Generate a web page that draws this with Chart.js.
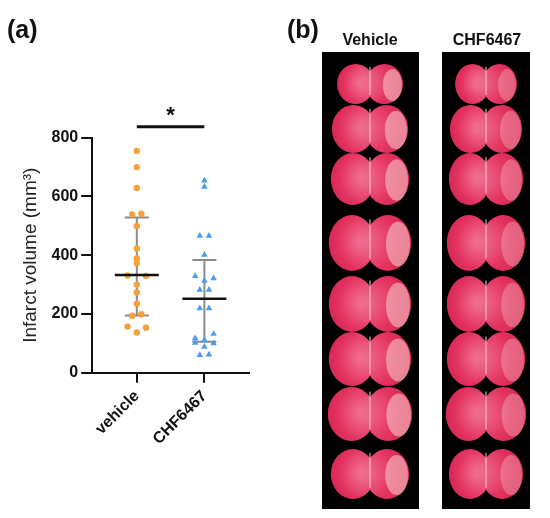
<!DOCTYPE html>
<html>
<head>
<meta charset="utf-8">
<script src="https://cdn.jsdelivr.net/npm/chart.js@4/dist/chart.umd.min.js"></script>
<style>
  body { margin: 0; background: #fff; }
  #wrap { position: relative; width: 550px; height: 518px; }
</style>
</head>
<body>
<div id="wrap"><canvas id="chart" width="550" height="518"></canvas></div>
<script>
// values
var groups = ['vehicle', 'CHF6467'];
var vehicle = [755, 700, 629, 539, 541, 499, 423, 389, 373, 331, 329, 300, 273, 235, 194, 199, 157, 153, 137];
var vehicleJitter = [0, 0, 0, -1, 1, 0, 0, 0, 0, -2, 2, 0, 0, 0, -1, 1, -2, 2, 0];
var chf = [654, 633, 466, 466, 401, 329, 313, 321, 282, 282, 219, 219, 132, 117, 111, 102, 100, 88, 60, 62];
var chfJitter = [0, 0, -1, 1, 0, -2, 0, 2, -1, 1, -1, 1, 2, -2, 0, -2, 2, 0, -1, 1];
var medians = [333, 252];
var q1 = [195, 105];
var q3 = [528, 384];
var yTicks = [0, 200, 400, 600, 800];
var panelLabels = ['(a)', '(b)'];
var photoTitles = ['Vehicle', 'CHF6467'];

var jitterStep = 0.068;
var FONT = "'Liberation Sans', Arial, sans-serif";

function toPoints(values, jitter, idx) {
  return values.map(function(v, i) {
    return { x: idx + jitter[i] * jitterStep, y: v };
  });
}

// grey IQR bars behind the points
var iqrPlugin = {
  id: 'iqr',
  beforeDatasetsDraw: function(chart) {
    var ctx = chart.ctx, x = chart.scales.x, y = chart.scales.y;
    ctx.save();
    ctx.strokeStyle = '#8c8c8c';
    ctx.lineWidth = 2;
    groups.forEach(function(g, i) {
      var cx = x.getPixelForValue(i);
      var lo = y.getPixelForValue(q1[i]), hi = y.getPixelForValue(q3[i]);
      ctx.beginPath();
      ctx.moveTo(cx, lo); ctx.lineTo(cx, hi);
      ctx.moveTo(cx - 12, lo); ctx.lineTo(cx + 12, lo);
      ctx.moveTo(cx - 12, hi); ctx.lineTo(cx + 12, hi);
      ctx.stroke();
    });
    ctx.restore();
  }
};

// medians, significance bar and the text labels
var overlayPlugin = {
  id: 'overlay',
  afterDatasetsDraw: function(chart) {
    var ctx = chart.ctx, x = chart.scales.x, y = chart.scales.y;
    ctx.save();
    ctx.strokeStyle = '#111';
    ctx.lineWidth = 2.5;
    groups.forEach(function(g, i) {
      var cx = x.getPixelForValue(i), my = y.getPixelForValue(medians[i]);
      ctx.beginPath();
      ctx.moveTo(cx - 22, my); ctx.lineTo(cx + 22, my);
      ctx.stroke();
    });
    var top = chart.chartArea.top;
    var x0 = x.getPixelForValue(0), x1 = x.getPixelForValue(1);
    ctx.lineWidth = 3;
    ctx.beginPath();
    ctx.moveTo(x0, top - 11); ctx.lineTo(x1, top - 11);
    ctx.stroke();
    ctx.fillStyle = '#111';
    ctx.font = 'bold 22px ' + FONT;
    ctx.textAlign = 'center';
    ctx.textBaseline = 'middle';
    ctx.fillText('*', (x0 + x1) / 2, top - 22);
    ctx.restore();
  },
  afterDraw: function(chart) {
    var ctx = chart.ctx;
    ctx.save();
    ctx.fillStyle = '#111';
    ctx.textBaseline = 'alphabetic';
    ctx.textAlign = 'left';
    ctx.font = 'bold 25px ' + FONT;
    ctx.fillText(panelLabels[0], 7, 38);
    ctx.fillText(panelLabels[1], 287, 38);
    ctx.font = 'bold 16px ' + FONT;
    ctx.textAlign = 'center';
    ctx.fillText(photoTitles[0], 370, 45);
    ctx.fillText(photoTitles[1], 487, 45);
    drawPhotos(ctx);
    ctx.restore();
  }
};

// panel (b) is a photograph; only a rough sketch of it
function drawPhotos(ctx) {
  var cols = [{ l: 322, r: 419, c: 370, pale: 1 }, { l: 442, r: 530, c: 486, pale: 0.6 }];
  var cy = [83, 128, 178, 242, 303, 358, 413, 473];
  var hh = [20, 24, 26, 28, 28, 27, 27, 25];
  var hw = [32, 37, 38, 40, 40, 40, 41, 38];
  cols.forEach(function(col) {
    ctx.fillStyle = '#000';
    ctx.fillRect(col.l, 52, col.r - col.l, 457);
    cy.forEach(function(yy, i) {
      var w = col.pale < 1 ? hw[i] - 2 : hw[i];
      var g = ctx.createRadialGradient(col.c - 8, yy, 4, col.c, yy, w);
      g.addColorStop(0, '#f06a8e');
      g.addColorStop(0.7, '#e3325f');
      g.addColorStop(1, '#d82a56');
      ctx.fillStyle = g;
      ctx.beginPath();
      ctx.ellipse(col.c - w * 0.45, yy + 1, w * 0.58, hh[i], 0, 0, Math.PI * 2);
      ctx.ellipse(col.c + w * 0.45, yy + 1, w * 0.58, hh[i], 0, 0, Math.PI * 2);
      ctx.fill();
      ctx.fillStyle = 'rgba(245, 210, 205,' + (0.55 * col.pale) + ')';
      ctx.beginPath();
      ctx.ellipse(col.c + w * 0.7, yy + 2, w * 0.3, hh[i] * 0.8, 0, 0, Math.PI * 2);
      ctx.fill();
      ctx.strokeStyle = 'rgba(255, 200, 215, 0.7)';
      ctx.lineWidth = 1.5;
      ctx.beginPath();
      ctx.moveTo(col.c, yy - hh[i] * 0.8);
      ctx.lineTo(col.c, yy + hh[i] * 0.6);
      ctx.stroke();
    });
  });
}

new Chart('chart', {
  type: 'scatter',
  data: {
    datasets: [
      {
        label: groups[0],
        data: toPoints(vehicle, vehicleJitter, 0),
        backgroundColor: '#f5a23e',
        borderWidth: 0,
        pointStyle: 'circle',
        pointRadius: 3.2
      },
      {
        label: groups[1],
        data: toPoints(chf, chfJitter, 1),
        backgroundColor: '#4c9cea',
        borderWidth: 0,
        pointStyle: 'triangle',
        pointRadius: 3.8
      }
    ]
  },
  options: {
    responsive: false,
    animation: false,
    layout: { padding: { top: 137.7, right: 301, bottom: 0, left: 19 } },
    plugins: {
      legend: { display: false },
      tooltip: { enabled: false }
    },
    scales: {
      x: {
        type: 'linear',
        min: -0.66,
        max: 1.66,
        afterBuildTicks: function(s) { s.ticks = groups.map(function(g, i) { return { value: i }; }); },
        afterFit: function(s) { s.height = 145.3; },
        border: { color: '#111', width: 2 },
        grid: { drawOnChartArea: false, color: '#111', lineWidth: 2, tickLength: 10 },
        ticks: {
          autoSkip: false,
          minRotation: 45,
          maxRotation: 45,
          padding: 4,
          color: '#111',
          font: { family: FONT, size: 16, weight: 'bold' },
          callback: function(v) { return groups[v]; }
        }
      },
      y: {
        min: 0,
        max: 800,
        afterBuildTicks: function(s) { s.ticks = yTicks.map(function(v) { return { value: v }; }); },
        afterFit: function(s) { s.width = 73.2; },
        border: { color: '#111', width: 2 },
        grid: { drawOnChartArea: false, color: '#111', lineWidth: 2, tickLength: 11 },
        ticks: {
          padding: 3,
          color: '#111',
          font: { family: FONT, size: 16, weight: 'bold' }
        },
        title: {
          display: true,
          text: 'Infarct volume (mm³)',
          color: '#222',
          padding: { top: 0, bottom: 6 },
          font: { family: FONT, size: 19 }
        }
      }
    }
  },
  plugins: [iqrPlugin, overlayPlugin]
});
</script>
</body>
</html>
